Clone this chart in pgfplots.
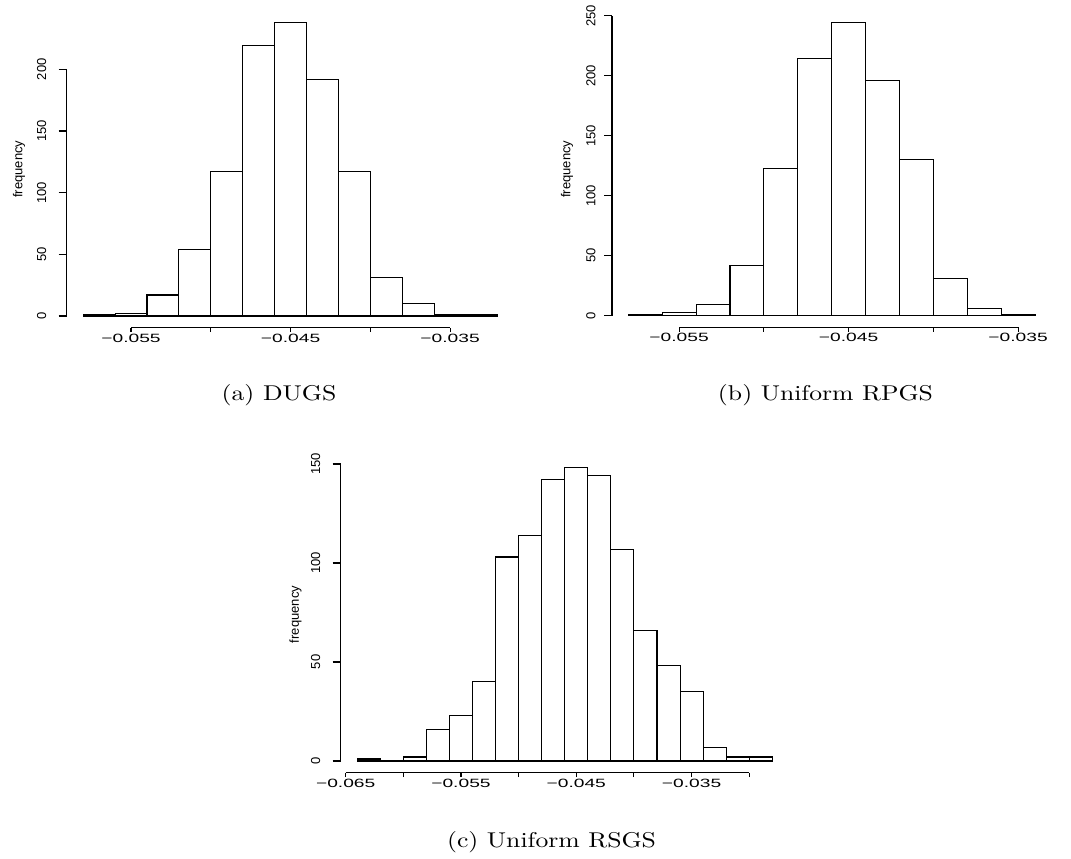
\documentclass[border=0pt]{standalone}
\usepackage{fontspec}
\usepackage{graphicx}
\usepackage{pgfplots}
\pgfplotsset{compat=1.18}
\newfontfamily\rxfont{Liberation Sans}[FakeStretch=1.6]
\newfontfamily\ryfont{Liberation Sans}
\pgfplotsset{
  rbase/.style={
    scale only axis, anchor=south west, clip=false,
    axis line style={draw=none},
    tick align=outside, tick pos=left,
    scaled x ticks=false, scaled y ticks=false,
    tick style={black, line width=0.55pt},
  },
  rbars/.style={rbase, xtick=\empty, major tick length=4pt,
    yticklabel style={font=\ryfont\fontsize{6.5}{7}\selectfont, rotate=90, anchor=south, inner sep=0pt},
    every axis y label/.style={rotate=90, anchor=base, inner sep=0pt, font=\ryfont\fontsize{6.5}{7}\selectfont},
    ylabel={frequency},
  },
  rx/.style={rbase, ytick=\empty, major tick length=2.2pt,
    xticklabel style={font=\rxfont\fontsize{6}{7}\selectfont, anchor=north, inner sep=0pt},
    xticklabel shift=0.7pt,
  },
  barstyle/.style={ybar interval, draw=black, fill=white, line width=0.55pt, forget plot},
  axline/.style={black, line width=0.55pt, forget plot, no markers},
}
\begin{document}
\begin{tikzpicture}
\path[use as bounding box] (0,0) rectangle (535.5pt,-429pt);
% ---------------- (a) DUGS
\begin{axis}[rbars, at={(33.3pt,-163.85pt)}, width=223.95pt, height=158.5pt,
  xmin=-0.05904, xmax=-0.03096, ymin=-9.52, ymax=247.52,
  ytick={0,50,100,150,200}, yticklabels={0,50,100,150,200}, yticklabel shift=6pt,
  ylabel style={at={(axis description cs:-0.0985,0.5)}}]
\addplot[barstyle] coordinates {(-0.058,1) (-0.056,2) (-0.054,17) (-0.052,54) (-0.050,117) (-0.048,219) (-0.046,238) (-0.044,192) (-0.042,117) (-0.040,31) (-0.038,10) (-0.036,1) (-0.034,1) (-0.032,0)};
\addplot[axline] coordinates {(-0.05904,0) (-0.05904,200)};
\end{axis}
\begin{axis}[rx, at={(33.3pt,-163.85pt)}, width=223.95pt, height=158.5pt,
  xmin=-0.05904, xmax=-0.03096, ymin=-9.52, ymax=247.52,
  xtick={-0.055,-0.05,-0.045,-0.04,-0.035}, xticklabels={−0.055,,−0.045,,−0.035}]
\addplot[axline] coordinates {(-0.055,-9.52) (-0.035,-9.52)};
\end{axis}
% ---------------- (b) Uniform RPGS
\begin{axis}[rbars, at={(306pt,-163.7pt)}, width=219.65pt, height=158.1pt,
  xmin=-0.05896, xmax=-0.03304, ymin=-9.76, ymax=253.76,
  ytick={0,50,100,150,200,250}, yticklabels={0,50,100,150,200,250}, yticklabel shift=4pt,
  ylabel style={at={(axis description cs:-0.0945,0.5)}}]
\addplot[barstyle] coordinates {(-0.058,1) (-0.056,3) (-0.054,9) (-0.052,42) (-0.050,123) (-0.048,214) (-0.046,244) (-0.044,196) (-0.042,130) (-0.040,31) (-0.038,6) (-0.036,1) (-0.034,0)};
\addplot[axline] coordinates {(-0.05896,0) (-0.05896,250)};
\end{axis}
\begin{axis}[rx, at={(306pt,-163.7pt)}, width=219.65pt, height=158.1pt,
  xmin=-0.05896, xmax=-0.03304, ymin=-9.76, ymax=253.76,
  xtick={-0.055,-0.05,-0.045,-0.04,-0.035}, xticklabels={−0.055,,−0.045,,−0.035}]
\addplot[axline] coordinates {(-0.055,-9.76) (-0.035,-9.76)};
\end{axis}
% ---------------- (c) Uniform RSGS
\begin{axis}[rbars, at={(170.3pt,-386.35pt)}, width=224.15pt, height=158.25pt,
  xmin=-0.06544, xmax=-0.02656, ymin=-5.92, ymax=153.92,
  ytick={0,50,100,150}, yticklabels={0,50,100,150}, yticklabel shift=6pt,
  ylabel style={at={(axis description cs:-0.0928,0.5)}}]
\addplot[barstyle] coordinates {(-0.064,1) (-0.062,0) (-0.060,2) (-0.058,16) (-0.056,23) (-0.054,40) (-0.052,103) (-0.050,114) (-0.048,142) (-0.046,148) (-0.044,144) (-0.042,107) (-0.040,66) (-0.038,48) (-0.036,35) (-0.034,7) (-0.032,2) (-0.030,2) (-0.028,0)};
\addplot[axline] coordinates {(-0.06544,0) (-0.06544,150)};
\end{axis}
\begin{axis}[rx, at={(170.3pt,-386.35pt)}, width=224.15pt, height=158.25pt,
  xmin=-0.06544, xmax=-0.02656, ymin=-5.92, ymax=153.92,
  xtick={-0.065,-0.06,-0.055,-0.05,-0.045,-0.04,-0.035,-0.03}, xticklabels={−0.065,,−0.055,,−0.045,,−0.035,}]
\addplot[axline] coordinates {(-0.065,-5.92) (-0.03,-5.92)};
\end{axis}
% ---------------- captions
\node[anchor=base, inner sep=0pt] at (139.5pt,-200pt) {\scalebox{1.2}[1]{\fontsize{10.7}{12}\selectfont (a) DUGS}};
\node[anchor=base, inner sep=0pt] at (412.75pt,-200pt) {\scalebox{1.2}[1]{\fontsize{10.7}{12}\selectfont (b) Uniform RPGS}};
\node[anchor=base, inner sep=0pt] at (275.75pt,-423.65pt) {\scalebox{1.2}[1]{\fontsize{10.7}{12}\selectfont (c) Uniform RSGS}};
\end{tikzpicture}
\end{document}
